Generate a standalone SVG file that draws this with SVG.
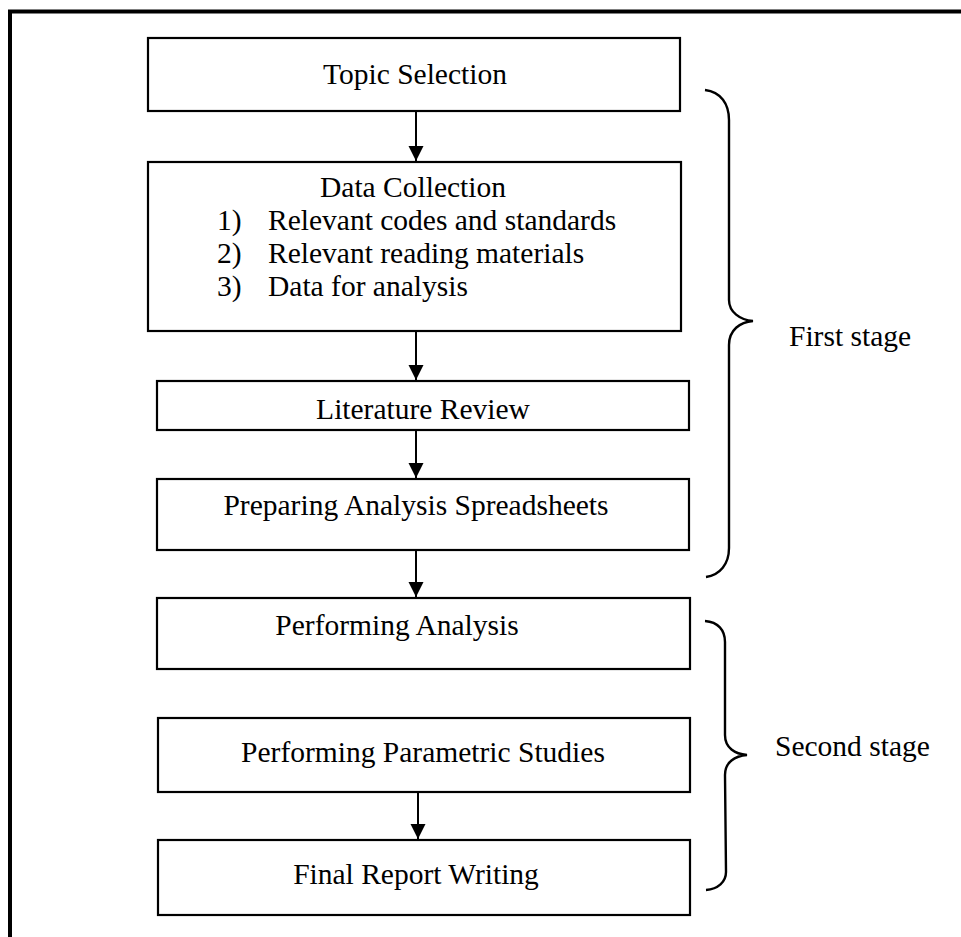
<svg xmlns="http://www.w3.org/2000/svg" width="961" height="937" viewBox="0 0 961 937">
<style>
.box{fill:#fff;stroke:#000;stroke-width:2.2}
.t{font-family:"Liberation Serif","Times New Roman",serif;font-size:29.5px;fill:#000}
.c{text-anchor:middle}
.ln{stroke:#000;stroke-width:2;fill:none}
.br{stroke:#000;stroke-width:2.4;fill:none}
</style>
<defs>
<marker id="ah" markerWidth="15" markerHeight="17" refX="15" refY="7.5" orient="auto" markerUnits="userSpaceOnUse">
<path d="M0,0 L15,7.5 L0,15 Z" fill="#000"/>
</marker>
</defs>
<rect width="961" height="937" fill="#fff"/>
<g id="frame">
<line x1="8" y1="11.5" x2="961" y2="11.5" stroke="#000" stroke-width="4"/>
<line x1="10" y1="10" x2="10" y2="937" stroke="#000" stroke-width="4"/>
</g>
<g id="connectors">
<line class="ln" x1="416" y1="111" x2="416" y2="161" marker-end="url(#ah)"/>
<line class="ln" x1="416" y1="331" x2="416" y2="380" marker-end="url(#ah)"/>
<line class="ln" x1="416" y1="430" x2="416" y2="478" marker-end="url(#ah)"/>
<line class="ln" x1="416" y1="550" x2="416" y2="597" marker-end="url(#ah)"/>
<line class="ln" x1="418" y1="792" x2="418" y2="839" marker-end="url(#ah)"/>
</g>
<g id="n1">
<rect class="box" x="148" y="38" width="532" height="73"/>
<text class="t c" x="415" y="84">Topic Selection</text>
</g>
<g id="n2">
<rect class="box" x="148" y="162" width="533" height="169"/>
<text class="t c" x="413" y="197">Data Collection</text>
<text class="t" x="217" y="230">1)</text>
<text class="t" x="268" y="230">Relevant codes and standards</text>
<text class="t" x="217" y="263">2)</text>
<text class="t" x="268" y="263">Relevant reading materials</text>
<text class="t" x="217" y="296">3)</text>
<text class="t" x="268" y="296">Data for analysis</text>
</g>
<g id="n3">
<rect class="box" x="157" y="381" width="532" height="49"/>
<text class="t c" x="423" y="419">Literature Review</text>
</g>
<g id="n4">
<rect class="box" x="157" y="479" width="532" height="71"/>
<text class="t c" x="416" y="515">Preparing Analysis Spreadsheets</text>
</g>
<g id="n5">
<rect class="box" x="157" y="598" width="533" height="71"/>
<text class="t c" x="397" y="635">Performing Analysis</text>
</g>
<g id="n6">
<rect class="box" x="158" y="718" width="532" height="74"/>
<text class="t c" x="423" y="762">Performing Parametric Studies</text>
</g>
<g id="n7">
<rect class="box" x="158" y="840" width="532" height="75"/>
<text class="t c" x="416" y="884">Final Report Writing</text>
</g>
<g id="stage1">
<path class="br" d="M705,90 C721,92 729,104 729,120 L729,300 C729,312 740,320 753,321 C740,322 729,330 729,345 L729,548 C729,564 720,575 706,577"/>
<text class="t" x="789" y="346">First stage</text>
</g>
<g id="stage2">
<path class="br" d="M705,621 C718,622 725,630 725,642 L725,735 C725,748 735,754 747,755 C735,756 725,762 725,775 L726,872 C726,882 718,889 706,890"/>
<text class="t" x="775" y="756">Second stage</text>
</g>
</svg>
